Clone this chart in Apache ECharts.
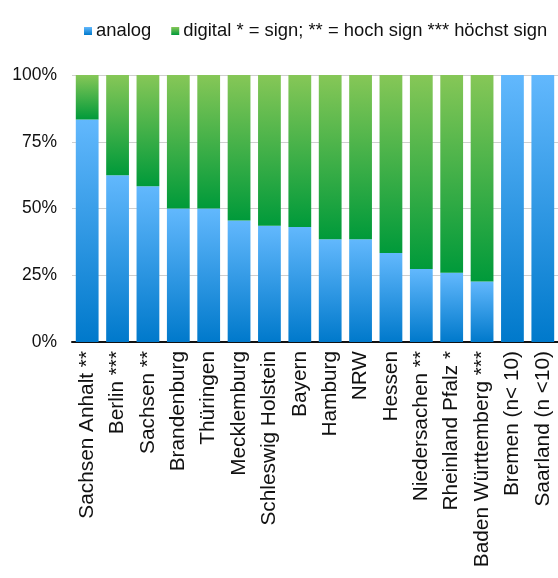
<!DOCTYPE html>
<html>
<head>
<meta charset="utf-8">
<script src="https://cdn.jsdelivr.net/npm/echarts@6/dist/echarts.min.js"></script>
<style>
  html, body { margin: 0; padding: 0; background: #fff; }
  #chart { width: 558px; height: 578px; }
</style>
</head>
<body>
<div id="chart"></div>
<script>
// Share of analog vs. digital per federal state (percent)
const states = [
  'Sachsen Anhalt **', 'Berlin ***', 'Sachsen **', 'Brandenburg', 'Thüringen',
  'Mecklemburg', 'Schleswig Holstein', 'Bayern', 'Hamburg', 'NRW', 'Hessen',
  'Niedersachen **', 'Rheinland Pfalz *', 'Baden Württemberg ***',
  'Bremen (n< 10)', 'Saarland (n <10)'
];
const analog  = [83.3, 62.5, 58.3, 50, 50, 45.5, 43.5, 43.1, 38.5, 38.5, 33.3, 27.3, 25.9, 22.7, 100, 100];
const digital = [16.7, 37.5, 41.7, 50, 50, 54.5, 56.5, 56.9, 61.5, 61.5, 66.7, 72.7, 74.1, 77.3, 0, 0];
const yTicks  = [0, 25, 50, 75, 100];

const FONT = 'Liberation Sans, Arial, Helvetica, sans-serif';

function vGrad(top, bottom) {
  return new echarts.graphic.LinearGradient(0, 0, 0, 1, [
    { offset: 0, color: top },
    { offset: 1, color: bottom }
  ]);
}

const chart = echarts.init(document.getElementById('chart'));
chart.setOption({
  animation: false,
  backgroundColor: '#fff',
  legend: {
    left: 79,
    top: 17,
    itemWidth: 8,
    itemHeight: 8,
    itemGap: 20,
    icon: 'rect',
    textStyle: { fontFamily: FONT, fontSize: 18.4, color: '#111', padding: [0, 0, 0, -1] },
    data: ['analog', 'digital * = sign; ** = hoch sign *** höchst sign']
  },
  grid: { left: 72, right: -2, top: 75, bottom: 236, containLabel: false },
  xAxis: {
    type: 'category',
    data: states,
    axisLine: { show: true, lineStyle: { color: '#111', width: 2 } },
    axisTick: { show: false },
    axisLabel: {
      rotate: 90,
      interval: 0,
      margin: 9,
      fontFamily: FONT,
      fontSize: 20.8,
      color: '#111'
    }
  },
  yAxis: {
    type: 'value',
    min: yTicks[0],
    max: yTicks[yTicks.length - 1],
    interval: 25,
    axisLine: { show: false },
    axisTick: { show: false },
    splitLine: { lineStyle: { color: '#cfcfcf', width: 1 } },
    axisLabel: {
      formatter: '{value}%',
      fontFamily: FONT,
      fontSize: 17.5,
      color: '#111',
      margin: 15
    }
  },
  series: [
    {
      name: 'analog',
      type: 'bar',
      stack: 'total',
      barCategoryGap: '25%',
      data: analog,
      itemStyle: { color: vGrad('#62b8fd', '#0079cb') }
    },
    {
      name: 'digital * = sign; ** = hoch sign *** höchst sign',
      type: 'bar',
      stack: 'total',
      barCategoryGap: '25%',
      data: digital,
      itemStyle: { color: vGrad('#86c757', '#009a3a') }
    }
  ]
});
</script>
</body>
</html>
